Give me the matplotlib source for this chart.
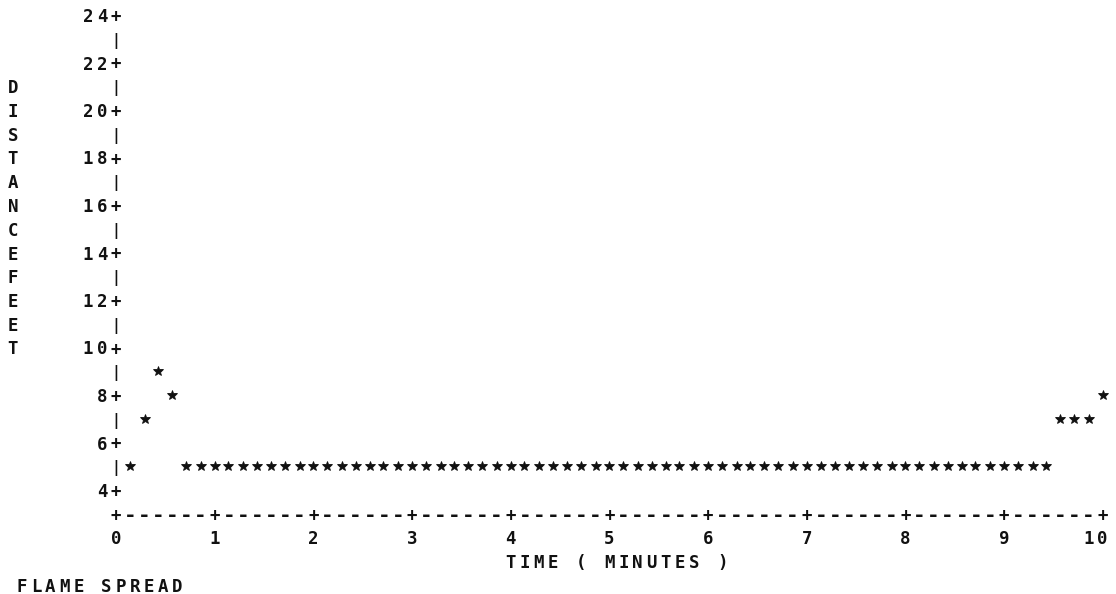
import matplotlib
matplotlib.use("Agg")
import matplotlib.pyplot as plt

# ---- data (time in minutes, distance in feet) ----
times = [0.14, 0.29, 0.43, 0.57,
         0.71, 0.86, 1.00, 1.14, 1.29, 1.43, 1.57, 1.71, 1.86, 2.00,
         2.14, 2.29, 2.43, 2.57, 2.71, 2.86, 3.00, 3.14, 3.29, 3.43,
         3.57, 3.71, 3.86, 4.00, 4.14, 4.29, 4.43, 4.57, 4.71, 4.86,
         5.00, 5.14, 5.29, 5.43, 5.57, 5.71, 5.86, 6.00, 6.14, 6.29,
         6.43, 6.57, 6.71, 6.86, 7.00, 7.14, 7.29, 7.43, 7.57, 7.71,
         7.86, 8.00, 8.14, 8.29, 8.43, 8.57, 8.71, 8.86, 9.00, 9.14,
         9.29, 9.43,
         9.57, 9.71, 9.86, 10.00]
distance = [5, 7, 9, 8,
            5, 5, 5, 5, 5, 5, 5, 5, 5, 5,
            5, 5, 5, 5, 5, 5, 5, 5, 5, 5,
            5, 5, 5, 5, 5, 5, 5, 5, 5, 5,
            5, 5, 5, 5, 5, 5, 5, 5, 5, 5,
            5, 5, 5, 5, 5, 5, 5, 5, 5, 5,
            5, 5, 5, 5, 5, 5, 5, 5, 5, 5,
            5, 5,
            7, 7, 7, 8]

x_ticks = [0, 1, 2, 3, 4, 5, 6, 7, 8, 9, 10]
y_ticks = [4, 6, 8, 10, 12, 14, 16, 18, 20, 22, 24]
x_title = "TIME ( MINUTES )"
y_title = "DISTANCEFEET"
caption = "FLAME SPREAD"

COLS_PER_UNIT = 7
COL = 1.0 / COLS_PER_UNIT

FONT = dict(family=["DejaVu Sans Mono"], fontweight="bold",
            fontsize=12.5, color="#111111")

fig = plt.figure(figsize=(11.16, 5.94), dpi=100)
ax = fig.add_axes([0, 0, 1, 1])
ax.axis("off")
ax.set_xlim(-116 / 98.67, (1116 - 116) / 98.67)
ax.set_ylim(4 - 104 / 23.75, 4 + 490 / 23.75)


def put(s, x0, y, **kw):
    """Place a string one character per printer column."""
    for i, ch in enumerate(s):
        if ch == " ":
            continue
        opts = dict(FONT)
        opts.update(kw)
        ax.text(x0 + i * COL, y, ch, ha="center", va="center_baseline", **opts)


# vertical axis
y_min, y_max = y_ticks[0], y_ticks[-1]
for yv in range(y_min, y_max + 1):
    if yv in y_ticks:
        put("+", 0, yv)
        lab = str(yv)
        put(lab, -len(lab) * COL, yv)
    else:
        put("|", 0, yv, fontsize=10.5)

# horizontal axis (row 3)
axis_row = y_min - 1
for c in range(0, x_ticks[-1] * COLS_PER_UNIT + 1):
    if c % COLS_PER_UNIT == 0:
        put("+", c * COL, axis_row)
    else:
        put("-", c * COL, axis_row, fontsize=15)
for xv in x_ticks:
    lab = str(xv)
    put(lab, xv - (len(lab) - 1) * COL, axis_row - 1)

# axis titles
put(x_title, 4, axis_row - 2)
for i, ch in enumerate(y_title):
    put(ch, (13 - 116) / 98.67, 21 - i)
put(caption, (22 - 116) / 98.67, axis_row - 3)

# data
ax.plot(times, distance, ls="none", marker="*", ms=7, color="#111111",
        markeredgewidth=0.6)

fig.savefig("out.png", dpi=100, facecolor="white")
